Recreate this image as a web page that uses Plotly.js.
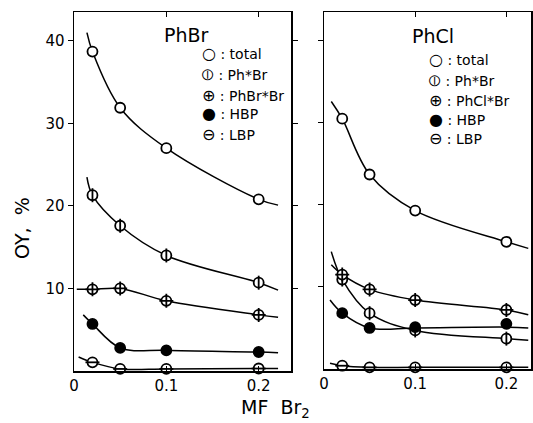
<!DOCTYPE html>
<html><head><meta charset="utf-8">
<script src="https://cdn.plot.ly/plotly-3.0.1.min.js"></script>
<style>html,body{margin:0;padding:0;background:#fff}#c{width:533px;height:423px}</style>
</head><body><div id="c"></div>
<script>
// MF Br2 values (x)
const mf = [0.02, 0.05, 0.1, 0.2];
// PhBr panel, OY %
const brTotal = [38.7, 31.9, 27.0, 20.8];
const brPhBr = [21.3, 17.6, 14.0, 10.7];
const brPhBrBr = [9.9, 10.0, 8.5, 6.8];
const brHBP = [5.7, 2.8, 2.5, 2.3];
const brLBP = [1.05, 0.25, 0.25, 0.3];
// PhCl panel, OY %
const clTotal = [30.5, 23.7, 19.3, 15.5];
const clPhBr = [10.9, 6.8, 4.7, 3.7];
const clPhClBr = [11.5, 9.7, 8.4, 7.2];
const clHBP = [6.8, 5.0, 5.1, 5.5];
const clLBP = [0.4, 0.2, 0.2, 0.2];
// fitted curves as drawn
const brCurveX = {total:[0.014,0.02,0.05,0.1,0.2,0.221], phbr:[0.014,0.02,0.05,0.1,0.2,0.221], phbrbr:[0.003,0.02,0.05,0.1,0.2,0.221], hbp:[0.010,0.02,0.05,0.1,0.2,0.221], lbp:[0.005,0.02,0.05,0.1,0.2,0.221]};
const brCurveY = {total:[41.0,38.7,31.9,27.0,20.8,20.1], phbr:[23.5,21.3,17.6,14.0,10.7,9.8], phbrbr:[9.9,9.9,10.0,8.5,6.8,6.5], hbp:[6.8,5.7,2.8,2.5,2.3,2.2], lbp:[1.7,1.05,0.25,0.25,0.3,0.3]};
const clCurveX = {total:[0.008,0.02,0.05,0.1,0.2,0.224], phbr:[0.008,0.02,0.05,0.1,0.2,0.224], phclbr:[0.008,0.02,0.05,0.1,0.2,0.224], hbp:[0.0066,0.02,0.05,0.1,0.2,0.224], lbp:[0.0066,0.02,0.05,0.1,0.2,0.224]};
const clCurveY = {total:[32.6,30.5,23.7,19.3,15.5,14.7], phbr:[14.3,10.9,6.8,4.7,3.7,3.5], phclbr:[12.7,11.5,9.7,8.4,7.2,6.6], hbp:[8.4,6.8,5.0,5.0,5.1,5.0], lbp:[0.7,0.4,0.2,0.2,0.2,0.2]};
const xTicks = [0, 0.1, 0.2];
const xTickText = ['0', '0.1', '0.2'];
const yTicks = [10, 20, 30, 40];

const traces = [];
function curve(xs, ys, ax) {
  traces.push({x: xs, y: ys, xaxis: ax[0], yaxis: ax[1], mode: 'lines', line: {color: '#000', width: 1.5, shape: 'spline', smoothing: 1}, hoverinfo: 'skip', showlegend: false});
}
function pts(ys, ax, sym, filled, overlay) {
  traces.push({x: mf, y: ys, xaxis: ax[0], yaxis: ax[1], mode: 'markers', showlegend: false, cliponaxis: false,
    marker: {symbol: sym, size: 10, color: filled ? '#000' : '#fff', line: {color: '#000', width: 1.8}}});
  if (overlay) traces.push({x: mf, y: ys, xaxis: ax[0], yaxis: ax[1], mode: 'markers', showlegend: false, cliponaxis: false,
    marker: {symbol: overlay, size: 10, color: '#000', line: {color: '#000', width: 1.8}}});
}
const L = ['x', 'y'], R = ['x2', 'y2'];
for (const k of ['total','phbr','phbrbr','hbp','lbp']) curve(brCurveX[k], brCurveY[k], L);
for (const k of ['total','phbr','phclbr','hbp','lbp']) curve(clCurveX[k], clCurveY[k], R);
pts(brTotal, L, 'circle', false);
pts(brPhBr, L, 'circle', false, 'line-ns-open');
pts(brPhBrBr, L, 'circle', false, 'cross-thin-open');
pts(brHBP, L, 'circle', true);
pts(brLBP, L, 'circle', false, 'line-ew-open');
pts(clTotal, R, 'circle', false);
pts(clPhBr, R, 'circle', false, 'line-ns-open');
pts(clPhClBr, R, 'circle', false, 'cross-thin-open');
pts(clHBP, R, 'circle', true);
pts(clLBP, R, 'circle', false, 'line-ew-open');

const tf = {family: 'DejaVu Sans', size: 15, color: '#000'};
const axBase = {showgrid: false, zeroline: false, showline: true, linecolor: '#000', linewidth: 1.5, mirror: 'ticks', ticks: 'outside', ticklen: 5, tickcolor: '#000', tickfont: tf};
const ann = [];
function txt(x, y, t, size, extra) { ann.push(Object.assign({xref: 'paper', yref: 'paper', x: x/533, y: 1 - y/423, text: t, showarrow: false, xanchor: 'left', yanchor: 'middle', font: {family: 'DejaVu Sans', size: size, color: '#000'}}, extra || {})); }
txt(186, 35, 'PhBr', 19, {xanchor: 'center'});
txt(433, 36, 'PhCl', 19, {xanchor: 'center'});
const legL = [['○', 'total'], ['⦶', 'Ph*Br'], ['⊕', 'PhBr*Br'], ['●', 'HBP'], ['⊖', 'LBP']];
const legLy = [54, 74, 95, 114, 134];
legL.forEach((e, i) => txt(200, legLy[i], '<span style="font-size:16px">' + e[0] + '</span> : ' + e[1], 14));
const legR = [['○', 'total'], ['⦶', 'Ph*Br'], ['⊕', 'PhCl*Br'], ['●', 'HBP'], ['⊖', 'LBP']];
const legRy = [60, 80, 100, 119, 139];
legR.forEach((e, i) => txt(427, legRy[i], '<span style="font-size:16px">' + e[0] + '</span> : ' + e[1], 14));
txt(22, 228, 'OY,  %', 19, {xanchor: 'center', textangle: -90});
txt(275, 408, 'MF  Br<sub>2</sub>', 19, {xanchor: 'center'});

const layout = {
  width: 533, height: 423, margin: {l: 0, r: 0, t: 0, b: 0},
  paper_bgcolor: '#fff', plot_bgcolor: '#fff', showlegend: false,
  xaxis: Object.assign({}, axBase, {domain: [74/533, 291/533], range: [0, 0.235], tickvals: xTicks, ticktext: xTickText, ticks: 'inside', anchor: 'y'}),
  yaxis: Object.assign({}, axBase, {domain: [52/423, 411/423], range: [0, 43.5], tickvals: yTicks, anchor: 'x'}),
  xaxis2: Object.assign({}, axBase, {domain: [324/533, 531/533], range: [0, 0.227], tickvals: xTicks, ticktext: xTickText, ticks: 'inside', anchor: 'y2'}),
  yaxis2: Object.assign({}, axBase, {domain: [54/423, 411/423], range: [0, 43.5], tickvals: yTicks, showticklabels: false, anchor: 'x2'}),
  annotations: ann
};
Plotly.newPlot('c', traces, layout, {staticPlot: true});
</script></body></html>
